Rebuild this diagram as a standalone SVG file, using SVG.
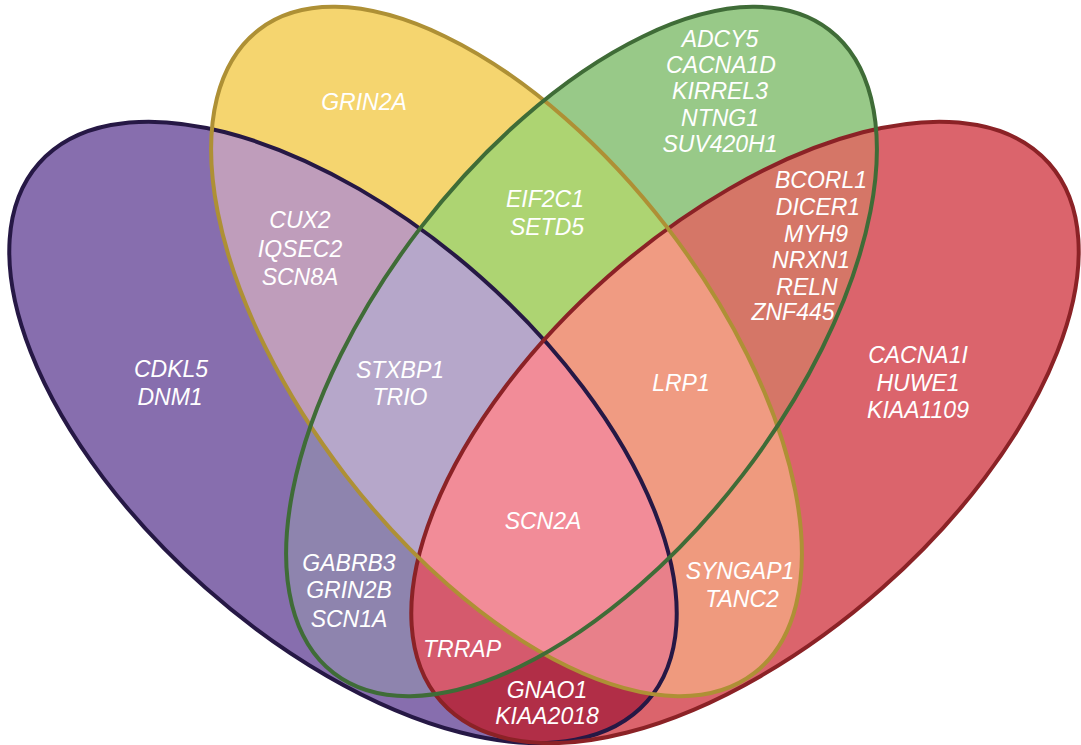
<svg xmlns="http://www.w3.org/2000/svg" xmlns:xlink="http://www.w3.org/1999/xlink" width="1081" height="745" viewBox="0 0 1081 745">
<style>
.lbl{font-family:"Liberation Sans",Arial,sans-serif;font-style:italic;font-size:23px;fill:#ffffff;text-anchor:middle}
.out{fill:none;stroke-width:4}
</style>
<defs>
<ellipse id="eP" cx="343" cy="432.4" rx="406" ry="207.5" transform="rotate(41.5 343 432.4)"/>
<ellipse id="eY" cx="506.5" cy="351.5" rx="406" ry="203" transform="rotate(52.4 506.5 351.5)"/>
<ellipse id="eG" cx="581.5" cy="351.5" rx="406" ry="203" transform="rotate(-52.4 581.5 351.5)"/>
<ellipse id="eR" cx="745" cy="432.4" rx="406" ry="207.5" transform="rotate(-41.5 745 432.4)"/>
<clipPath id="cP"><use xlink:href="#eP"/></clipPath>
<clipPath id="cY"><use xlink:href="#eY"/></clipPath>
<clipPath id="cG"><use xlink:href="#eG"/></clipPath>
<clipPath id="cR"><use xlink:href="#eR"/></clipPath>
</defs>
<rect width="1081" height="745" fill="#ffffff"/>
<g id="fills">
<use xlink:href="#eP" fill="#876EAE"/>
<use xlink:href="#eY" fill="#F5D56F"/>
<use xlink:href="#eG" fill="#98C988"/>
<use xlink:href="#eR" fill="#DB646C"/>
<g clip-path="url(#cP)"><use xlink:href="#eY" fill="#BF9DBB"/></g>
<g clip-path="url(#cP)"><use xlink:href="#eG" fill="#8E84AE"/></g>
<g clip-path="url(#cP)"><use xlink:href="#eR" fill="#B12E47"/></g>
<g clip-path="url(#cY)"><use xlink:href="#eG" fill="#ADD472"/></g>
<g clip-path="url(#cY)"><use xlink:href="#eR" fill="#EF9A7E"/></g>
<g clip-path="url(#cG)"><use xlink:href="#eR" fill="#D57667"/></g>
<g clip-path="url(#cP)"><g clip-path="url(#cY)"><use xlink:href="#eG" fill="#B6A7CA"/></g></g>
<g clip-path="url(#cP)"><g clip-path="url(#cY)"><use xlink:href="#eR" fill="#E8808A"/></g></g>
<g clip-path="url(#cP)"><g clip-path="url(#cG)"><use xlink:href="#eR" fill="#D55A6D"/></g></g>
<g clip-path="url(#cY)"><g clip-path="url(#cG)"><use xlink:href="#eR" fill="#F09B82"/></g></g>
<g clip-path="url(#cP)"><g clip-path="url(#cY)"><g clip-path="url(#cG)"><use xlink:href="#eR" fill="#F28C98"/></g></g></g>
</g>
<g id="set-purple"><use xlink:href="#eP" class="out" stroke="#261845"/></g>
<g id="set-red"><use xlink:href="#eR" class="out" stroke="#8B2226"/></g>
<g id="set-yellow"><use xlink:href="#eY" class="out" stroke="#AE9035"/></g>
<g id="set-green"><use xlink:href="#eG" class="out" stroke="#3F6C37"/></g>
<g id="connectors"></g>
<g id="r-p" class="lbl"><text x="171" y="377">CDKL5</text><text x="170" y="405">DNM1</text></g>
<g id="r-y" class="lbl"><text x="364" y="110">GRIN2A</text></g>
<g id="r-g" class="lbl"><text x="720" y="47">ADCY5</text><text x="721" y="73">CACNA1D</text><text x="720" y="99">KIRREL3</text><text x="720" y="126">NTNG1</text><text x="720" y="152">SUV420H1</text></g>
<g id="r-r" class="lbl"><text x="918" y="363">CACNA1I</text><text x="918" y="391">HUWE1</text><text x="918" y="418">KIAA1109</text></g>
<g id="r-py" class="lbl"><text x="300" y="228">CUX2</text><text x="300" y="257">IQSEC2</text><text x="300" y="285">SCN8A</text></g>
<g id="r-yg" class="lbl"><text x="545" y="207">EIF2C1</text><text x="547" y="235">SETD5</text></g>
<g id="r-gr" class="lbl"><text x="821" y="188">BCORL1</text><text x="818" y="215">DICER1</text><text x="816" y="242">MYH9</text><text x="811" y="268">NRXN1</text><text x="807" y="295">RELN</text><text x="793" y="320">ZNF445</text></g>
<g id="r-pyg" class="lbl"><text x="400" y="378">STXBP1</text><text x="400" y="405">TRIO</text></g>
<g id="r-ygr" class="lbl"><text x="681" y="391">LRP1</text></g>
<g id="r-pygr" class="lbl"><text x="543" y="529">SCN2A</text></g>
<g id="r-pg" class="lbl"><text x="349" y="571">GABRB3</text><text x="349" y="598">GRIN2B</text><text x="349" y="627">SCN1A</text></g>
<g id="r-yr" class="lbl"><text x="740" y="579">SYNGAP1</text><text x="742" y="607">TANC2</text></g>
<g id="r-pgr" class="lbl"><text x="462" y="657">TRRAP</text></g>
<g id="r-pr" class="lbl"><text x="547" y="698">GNAO1</text><text x="547" y="724">KIAA2018</text></g>
</svg>
